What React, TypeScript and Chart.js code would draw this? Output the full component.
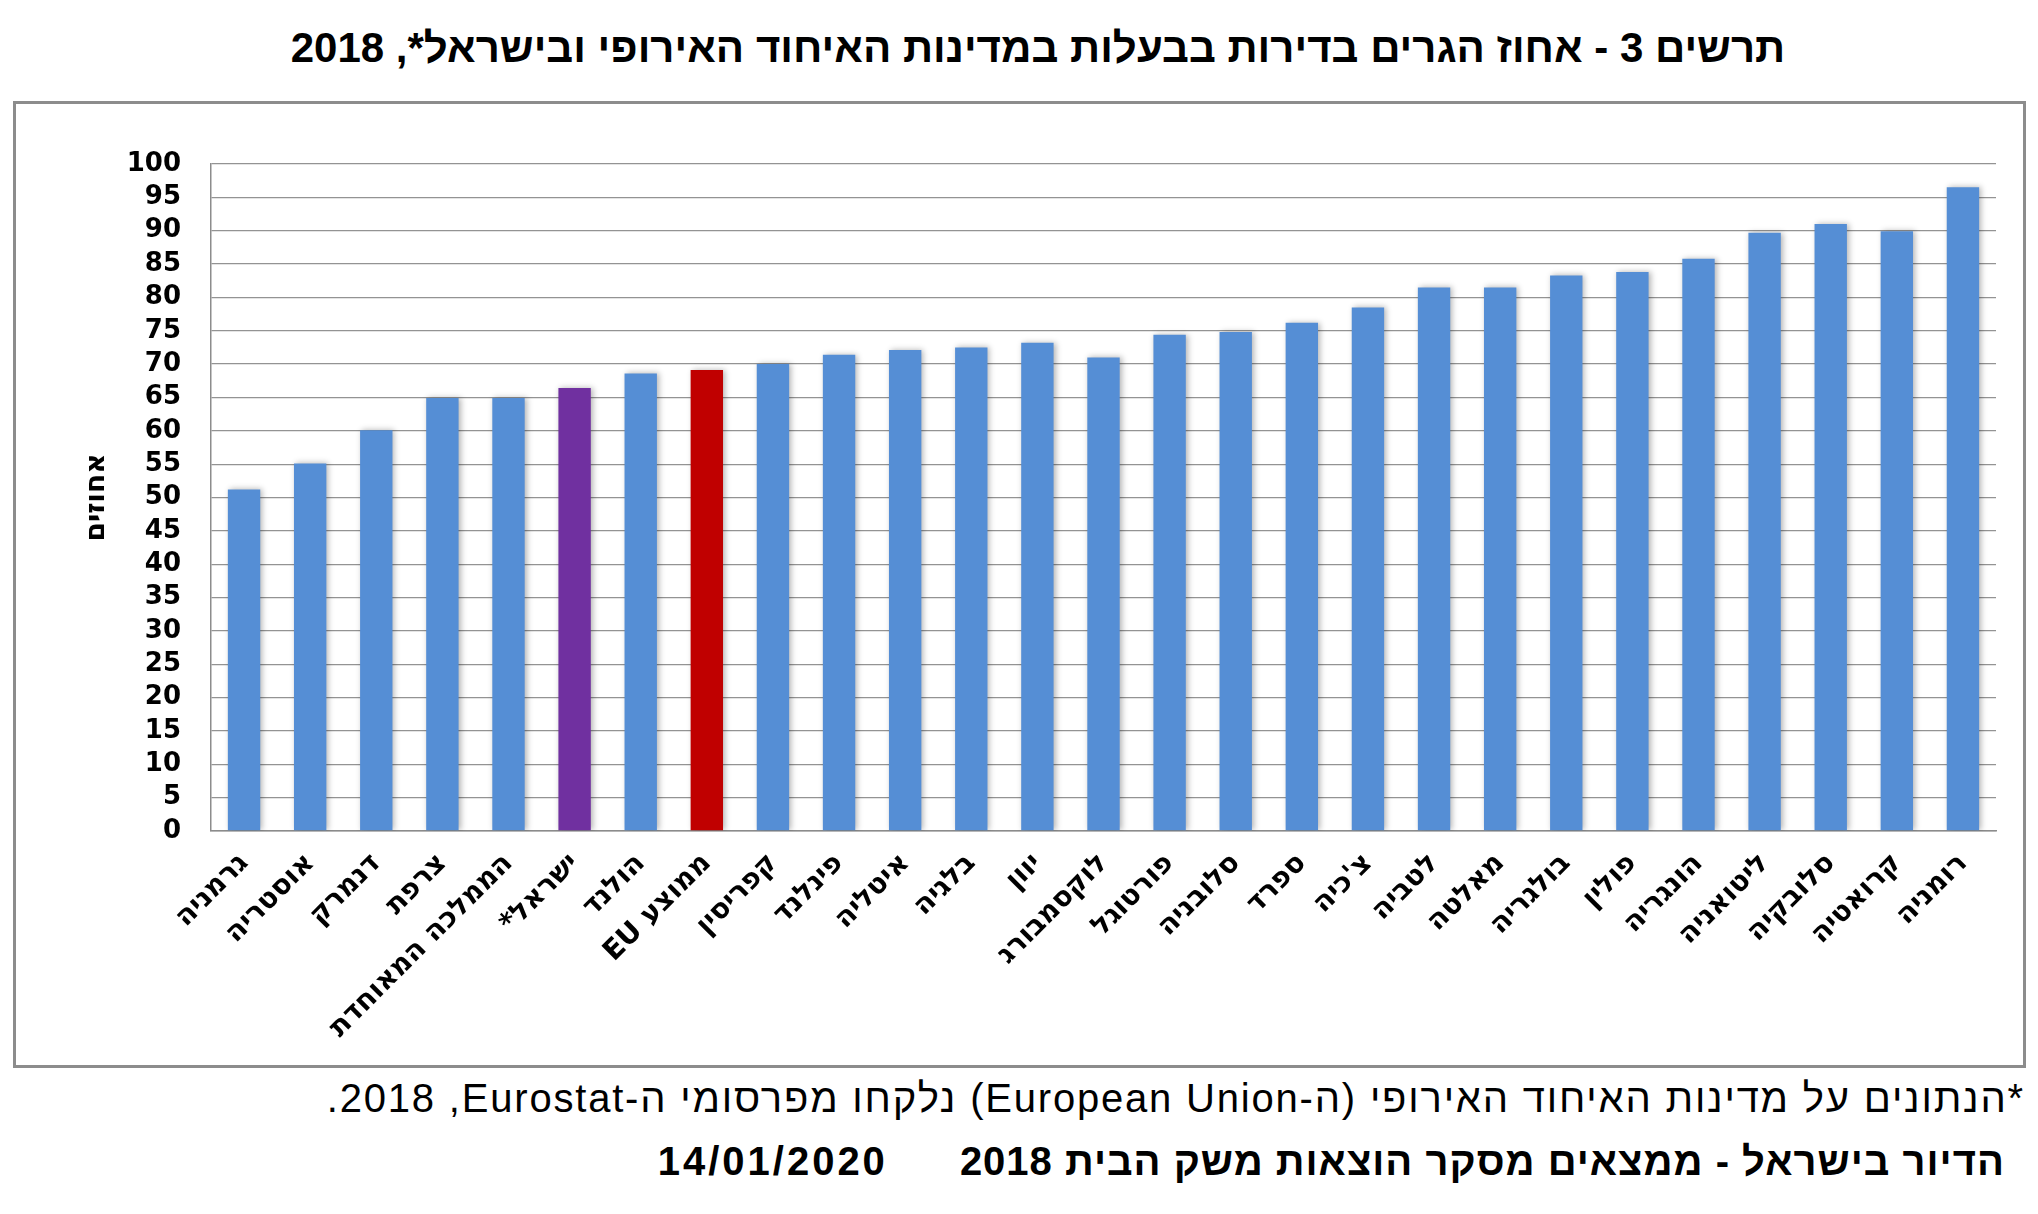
import { useEffect, useRef } from 'react'
import { Chart, registerables } from 'chart.js'

Chart.register(...registerables)

// countries, left to right (as in the original chart)
const countries = [
  'גרמניה',
  'אוסטריה',
  'דנמרק',
  'צרפת',
  'הממלכה המאוחדת',
  'ישראל*',
  'הולנד',
  'ממוצע EU',
  'קפריסין',
  'פינלנד',
  'איטליה',
  'בלגיה',
  'יוון',
  'לוקסמבורג',
  'פורטוגל',
  'סלובניה',
  'ספרד',
  "צ'כיה",
  'לטביה',
  'מאלטה',
  'בולגריה',
  'פולין',
  'הונגריה',
  'ליטואניה',
  'סלובקיה',
  'קרואטיה',
  'רומניה',
]

// percent of people living in an owned dwelling
const ownership = [
  51.2, 55.1, 60.1, 64.9, 64.9, 66.4, 68.6, 69.1, 70.0, 71.4, 72.1, 72.5, 73.2, 71.0,
  74.4, 74.8, 76.2, 78.5, 81.5, 81.5, 83.3, 83.8, 85.8, 89.7, 91.0, 89.9, 96.5,
]

const yTicks = { min: 0, max: 100, step: 5 }

const BLUE = '#558ed5'
const ISRAEL = '#7030a0'
const EU = '#c00000'

const barColors = countries.map((c) => (c === 'ישראל*' ? ISRAEL : c === 'ממוצע EU' ? EU : BLUE))

// canvas draws in an ltr context, so wrap labels in an rtl embedding
const rtl = (s: string) => '\u202B' + s + '\u202C'

const shadowPlugin = {
  id: 'barShadow',
  beforeDatasetsDraw(chart: Chart) {
    const ctx = chart.ctx
    ctx.save()
    ctx.shadowColor = 'rgba(0,0,0,0.3)'
    ctx.shadowBlur = 6
    ctx.shadowOffsetX = 2
    ctx.shadowOffsetY = 0
  },
  afterDatasetsDraw(chart: Chart) {
    chart.ctx.restore()
  },
}

function OwnershipChart() {
  const canvasRef = useRef<HTMLCanvasElement>(null)
  const chartRef = useRef<Chart | null>(null)

  useEffect(() => {
    if (!canvasRef.current) return
    if (chartRef.current) chartRef.current.destroy()

    chartRef.current = new Chart(canvasRef.current, {
      type: 'bar',
      data: {
        labels: countries.map(rtl),
        datasets: [
          {
            data: ownership,
            backgroundColor: barColors,
            borderWidth: 0,
            categoryPercentage: 1,
            barPercentage: 0.49,
          },
        ],
      },
      options: {
        responsive: false,
        animation: false,
        layout: { padding: { top: 60, right: 27, left: 0, bottom: 0 } },
        plugins: {
          legend: { display: false },
          tooltip: { enabled: false },
        },
        scales: {
          x: {
            grid: { display: false },
            border: { display: true, color: '#8c8c8c', width: 1.5 },
            ticks: {
              autoSkip: false,
              minRotation: 45,
              maxRotation: 45,
              color: '#000',
              padding: 8,
              font: { family: 'DejaVu Sans', weight: 'bold', size: 28 },
            },
            afterFit(scale: any) {
              scale.height = 234
            },
          },
          y: {
            min: yTicks.min,
            max: yTicks.max,
            ticks: {
              stepSize: yTicks.step,
              autoSkip: false,
              color: '#000',
              padding: 30,
              font: { family: 'DejaVu Sans', weight: 'bold', size: 26 },
            },
            grid: { color: '#939393', lineWidth: 1.3, drawTicks: false },
            border: { display: true, color: '#8c8c8c', width: 1.5 },
            title: {
              display: true,
              text: 'אחוזים',
              color: '#000',
              font: { family: 'DejaVu Sans', weight: 'bold', size: 28 },
              padding: { top: 64, bottom: 0 },
            },
            afterFit(scale: any) {
              scale.width = 195
            },
          },
        },
      },
      plugins: [shadowPlugin],
    })

    return () => {
      if (chartRef.current) {
        chartRef.current.destroy()
        chartRef.current = null
      }
    }
  }, [])

  return <canvas ref={canvasRef} width={2007} height={961} style={{ display: 'block' }} />
}

export default function App() {
  return (
    <div style={{ position: 'relative', width: 2038, height: 1214, background: '#fff', fontFamily: '"Liberation Sans", Arial, sans-serif' }}>
      <style>{'body{margin:0;background:#fff}'}</style>
      <div
        dir="rtl"
        style={{
          position: 'absolute',
          left: 1038,
          top: 20,
          transform: 'translateX(-50%)',
          whiteSpace: 'nowrap',
          fontWeight: 'bold',
          fontSize: 42,
          lineHeight: '56px',
          color: '#000',
        }}
      >
        תרשים 3 - אחוז הגרים בדירות בבעלות במדינות האיחוד האירופי ובישראל*, 2018
      </div>
      <div
        style={{
          position: 'absolute',
          left: 13,
          top: 101,
          width: 2013,
          height: 967,
          border: '3px solid #8c8c8c',
          boxSizing: 'border-box',
        }}
      >
        <OwnershipChart />
      </div>
      <div
        dir="rtl"
        style={{
          position: 'absolute',
          right: 13,
          top: 1076,
          whiteSpace: 'nowrap',
          fontSize: 40,
          letterSpacing: '1.8px',
          lineHeight: '44px',
          color: '#000',
        }}
      >
        *הנתונים על מדינות האיחוד האירופי (ה-European Union) נלקחו מפרסומי ה-Eurostat,{'\u200F'} 2018.
      </div>
      <div
        dir="rtl"
        style={{
          position: 'absolute',
          right: 33,
          top: 1139,
          whiteSpace: 'nowrap',
          fontSize: 40,
          fontWeight: 'bold',
          lineHeight: '44px',
          color: '#000',
        }}
      >
        <span style={{ display: 'inline-block', letterSpacing: '1px' }}>הדיור בישראל - ממצאים מסקר הוצאות משק הבית 2018</span>
        <span style={{ display: 'inline-block', marginRight: 72, letterSpacing: '3px' }}>14/01/2020</span>
      </div>
    </div>
  )
}
